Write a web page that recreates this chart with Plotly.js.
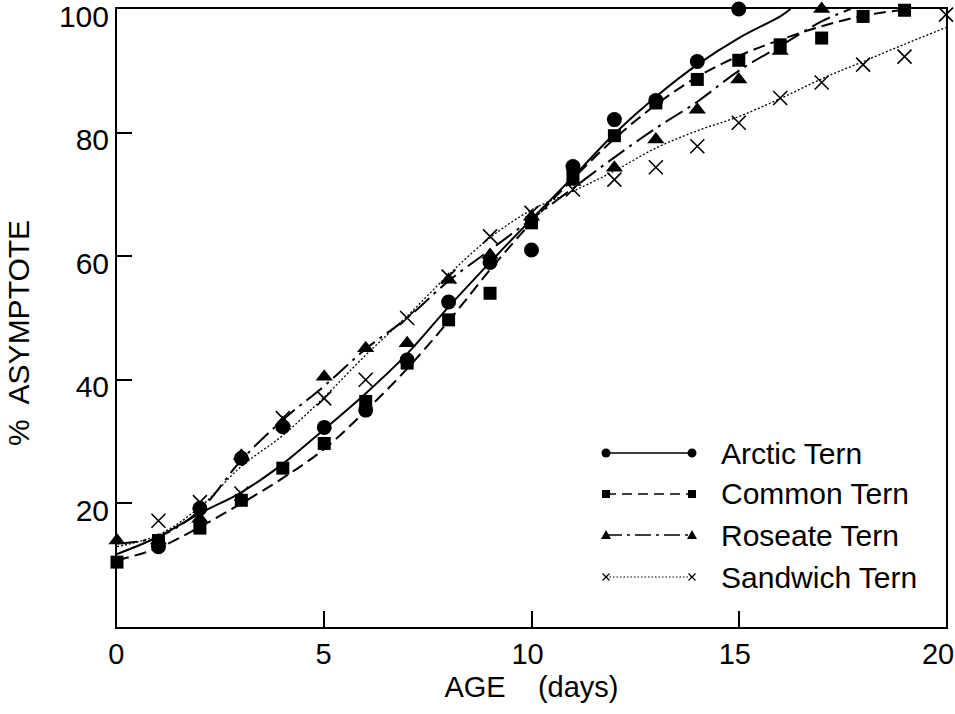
<!DOCTYPE html>
<html>
<head>
<meta charset="utf-8">
<script src="https://cdn.plot.ly/plotly-3.0.1.min.js"></script>
<style>html,body{margin:0;padding:0;background:#fff;}#chart{width:955px;height:714px;}</style>
</head>
<body>
<div id="chart"></div>
<script>
const arcticAge   = [1, 2, 3, 4, 5, 6, 7, 8, 9, 10, 11, 12, 13, 14, 15];
const arcticPct   = [13, 19.2, 27.3, 32.4, 32.3, 35.1, 43.2, 52.6, 59.0, 61.0, 74.5, 82.1, 85.2, 91.5, 100];

const commonAge   = [0, 1, 2, 3, 4, 5, 6, 7, 8, 9, 10, 11, 12, 13, 14, 15, 16, 17, 18, 19];
const commonPct   = [10.5, 14, 16, 20.5, 25.7, 29.7, 36.5, 42.7, 49.7, 54, 65.4, 72.9, 79.5, 84.8, 88.6, 91.7, 94.2, 95.3, 98.8, 99.8];

const roseateAge  = [0, 1, 2, 3, 4, 5, 6, 7, 8, 9, 10, 11, 12, 13, 14, 15, 16, 17];
const roseatePct  = [14, 14, 17.5, 27.7, 33, 40.5, 45.1, 45.9, 56.2, 60.2, 66.4, 72, 74.3, 78.9, 83.7, 88.6, 93.2, 100];

const sandwichAge = [1, 2, 3, 4, 5, 6, 7, 8, 9, 10, 11, 12, 13, 14, 15, 16, 17, 18, 19, 20];
const sandwichPct = [17.2, 20.2, 21.6, 33.8, 37, 40, 50, 56.7, 63.2, 67, 70.8, 72.4, 74.4, 77.8, 81.6, 85.6, 88.1, 91, 92.3, 99.1];

// ---- Fitted growth curves ----
const arcticCurveAge   = [0, 1, 2, 3, 4, 5, 6, 7, 8, 9, 10, 11, 12, 13, 14, 15, 16, 16.25];
const arcticCurvePct   = [11.8, 14.6, 18.4, 21.8, 26.4, 32, 37.8, 44.2, 51.8, 59, 66, 72.8, 79.8, 85.8, 91, 95.3, 98.8, 100];

const commonCurveAge   = [0, 1, 2, 3, 4, 5, 6, 7, 8, 9, 10, 11, 12, 13, 14, 15, 16, 17, 18, 19];
const commonCurvePct   = [10.8, 12.8, 16.2, 20, 24.1, 28.8, 35, 41.8, 49.5, 57.8, 65.5, 72.5, 79, 84.5, 89, 92.4, 95, 97.2, 98.9, 99.9];

const roseateCurveAge  = [0, 1, 2, 3, 4, 5, 6, 7, 8, 9, 10, 11, 12, 13, 14, 15, 16, 17, 17.7];
const roseateCurvePct  = [13.5, 14.6, 18.9, 27, 33.5, 39, 45, 50, 56, 61, 66, 71, 76, 80.7, 85, 90, 94, 98, 100];

const sandwichCurveAge = [0, 1, 2, 3, 4, 5, 6, 7, 8, 9, 10, 11, 12, 13, 14, 15, 16, 17, 18, 19, 20];
const sandwichCurvePct = [13, 14.9, 19.4, 26, 31, 37.2, 44, 50.3, 57, 63, 67.5, 70.5, 73.8, 77.5, 80.3, 82.6, 85.5, 88.7, 91.5, 94.3, 97];

const seriesNames = ['Arctic Tern', 'Common Tern', 'Roseate Tern', 'Sandwich Tern'];
const xTickVals = [0, 5, 10, 15, 20];
const xTickText = ['0', '5', '10', '15', '20'];
const yTickVals = [20, 40, 60, 80, 100];
const yTickText = ['20', '40', '60', '80', '100'];

// ---- Styles ----
const FONT = 'Liberation Sans, Arial, Helvetica, sans-serif';
const styles = [
  {dash: 'solid',              width: 2,   symbol: 'circle',       size: 15},
  {dash: '12px,6px',           width: 2,   symbol: 'square',       size: 13},
  {dash: '20px,6px,3px,6px',   width: 2,   symbol: 'triangle-up',  size: 15},
  {dash: '2px,2px',            width: 1.3, symbol: 'x-thin-open',  size: 14}
];
// small per-label nudges (leading spaces) to sit labels where the original print has them
const xLabelPad = ['\u200b\u2002', '\u200b\u2002', '\u200b\u00a0', '\u200b\u00a0', ''];

const curveX = [arcticCurveAge, commonCurveAge, roseateCurveAge, sandwichCurveAge];
const curveY = [arcticCurvePct, commonCurvePct, roseateCurvePct, sandwichCurvePct];
const ptX = [arcticAge, commonAge, roseateAge, sandwichAge];
const ptY = [arcticPct, commonPct, roseatePct, sandwichPct];

const traces = [];
for (let i = 0; i < 4; i++) {
  traces.push({
    x: curveX[i], y: curveY[i], type: 'scatter', mode: 'lines',
    line: {color: '#000', width: styles[i].width, dash: styles[i].dash, shape: 'spline', smoothing: 1},
    showlegend: false, hoverinfo: 'skip', cliponaxis: true
  });
}
for (let i = 0; i < 4; i++) {
  const s = styles[i];
  traces.push({
    x: ptX[i], y: ptY[i], type: 'scatter', mode: 'markers', name: seriesNames[i],
    marker: {symbol: s.symbol, size: s.size, color: '#000',
             line: {color: '#000', width: s.symbol === 'x-thin-open' ? 1.6 : 0}},
    showlegend: false, cliponaxis: false
  });
}

// ---- Hand-drawn legend (layout decoration, in paper coordinates) ----
const L = 117, R = 946, T = 9, B = 627;
const px2x = p => (p - L) / (R - L);
const py2y = p => (B - p) / (B - T);
const legendRowsPx = [453, 494, 535, 577];
const legendLeftPx = 606, legendRightPx = 692, legendTextPx = 719;
const shapes = [];
const annotations = [];
function markerShape(kind, cx, cy) {
  const base = {xref: 'paper', yref: 'paper', xsizemode: 'pixel', ysizemode: 'pixel',
                xanchor: cx, yanchor: cy, layer: 'above'};
  if (kind === 'circle') return Object.assign(base, {type: 'circle', x0: -4.5, x1: 4.5, y0: -4.5, y1: 4.5, fillcolor: '#000', line: {width: 0}});
  if (kind === 'square') return Object.assign(base, {type: 'rect', x0: -4, x1: 4, y0: -4, y1: 4, fillcolor: '#000', line: {width: 0}});
  if (kind === 'triangle-up') return Object.assign(base, {type: 'path', path: 'M-5,-4L5,-4L0,5Z', fillcolor: '#000', line: {width: 0}});
  return Object.assign(base, {type: 'path', path: 'M-3.5,-3.5L3.5,3.5M-3.5,3.5L3.5,-3.5', line: {color: '#000', width: 1.2}});
}
for (let i = 0; i < 4; i++) {
  const yy = py2y(legendRowsPx[i]);
  shapes.push({type: 'line', xref: 'paper', yref: 'paper', layer: 'above',
    x0: px2x(legendLeftPx), x1: px2x(legendRightPx), y0: yy, y1: yy,
    line: {color: '#000', width: i === 3 ? 1 : 1.6, dash: i === 1 ? '10px,6px' : (i === 2 ? '16px,5px,3px,5px' : (i === 3 ? '1.5px,2px' : 'solid'))}});
  shapes.push(markerShape(styles[i].symbol, px2x(legendLeftPx), yy));
  shapes.push(markerShape(styles[i].symbol, px2x(legendRightPx), yy));
  annotations.push({xref: 'paper', yref: 'paper', x: px2x(legendTextPx), y: yy,
    xanchor: 'left', yanchor: 'middle', showarrow: false, text: seriesNames[i],
    font: {family: FONT, size: 30, color: '#000'}});
}

const layout = {
  width: 955, height: 714,
  margin: {l: L, r: 955 - R, t: T, b: 714 - B, pad: 0},
  paper_bgcolor: '#fff', plot_bgcolor: '#fff',
  showlegend: false,
  font: {family: FONT, color: '#000'},
  xaxis: {
    range: [0, 20], showgrid: false, zeroline: false,
    showline: true, linewidth: 2, linecolor: '#000', mirror: true,
    ticks: 'inside', ticklen: 16, tickwidth: 2, tickcolor: '#000',
    tickvals: xTickVals, ticktext: xTickText.map((t, i) => xLabelPad[i] + t), ticklabelshift: -8,
    ticklabeloverflow: 'allow',
    tickfont: {family: FONT, size: 29, color: '#000'},
    title: {text: '\u2002AGE\u00a0\u00a0\u00a0\u00a0(days)', font: {family: FONT, size: 29, color: '#000'}, standoff: 8}
  },
  yaxis: {
    range: [0, 100], showgrid: false, zeroline: false,
    showline: true, linewidth: 2, linecolor: '#000', mirror: true,
    ticks: 'inside', ticklen: 15, tickwidth: 2, tickcolor: '#000',
    tickvals: yTickVals, ticktext: yTickText, ticklabelshift: 7,
    ticklabeloverflow: 'allow',
    tickfont: {family: FONT, size: 30, color: '#000'},
    title: {text: '%\u2002ASYMPTOTE\u2002\u2002\u200b', font: {family: FONT, size: 30, color: '#000'}, standoff: 20}
  },
  shapes: shapes,
  annotations: annotations
};

Plotly.newPlot('chart', traces, layout, {displayModeBar: false, staticPlot: true});
</script>
</body>
</html>
